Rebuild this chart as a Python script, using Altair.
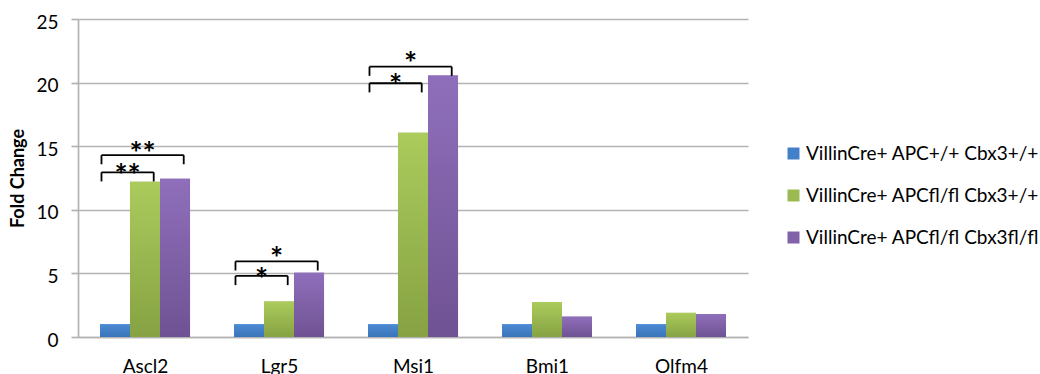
import altair as alt
import pandas as pd

# Genes on the x axis and the three genotypes
genes = ["Ascl2", "Lgr5", "Msi1", "Bmi1", "Olfm4"]
series = [
    "VillinCre+ APC+/+ Cbx3+/+",
    "VillinCre+ APCfl/fl Cbx3+/+",
    "VillinCre+ APCfl/fl Cbx3fl/fl",
]

# Fold change per gene for each genotype
fc_wildtype = [1.0, 1.0, 1.0, 1.0, 1.0]
fc_apc = [12.2, 2.8, 16.05, 2.75, 1.9]
fc_apc_cbx3 = [12.45, 5.05, 20.55, 1.6, 1.8]

# Significance brackets: gene, genotype compared against wild type, bracket height, star text and height
sig_gene = ["Ascl2", "Ascl2", "Lgr5", "Lgr5", "Msi1", "Msi1"]
sig_to = [1, 2, 1, 2, 1, 2]
sig_level = [12.95, 14.3, 4.8, 5.95, 19.95, 21.25]
sig_label = ["**", "**", "*", "*", "*", "*"]
sig_label_y = [13.3, 15.0, 5.1, 6.8, 20.4, 22.1]

solid_colors = ["#4280c9", "#9bbb52", "#8062a8"]
gradients = [
    ("#4b8bd4", "#3a73b8"),
    ("#abcb5c", "#86a243"),
    ("#8f6fbb", "#6f5293"),
]

FONT = "Lato"
FS = 19
BAR_W = 0.224   # bar width in category units
LEG = 0.72      # bracket leg length in fold-change units
GRID = "#b3b3b3"

values = [fc_wildtype, fc_apc, fc_apc_cbx3]
rows = []
for si, s in enumerate(series):
    for gi, g in enumerate(genes):
        rows.append({"gene": g, "gi": gi, "series": s, "si": si, "value": values[si][gi]})
bars_df = pd.DataFrame(rows)

sig_df = pd.DataFrame({
    "gene": sig_gene,
    "to": sig_to,
    "level": sig_level,
    "label": sig_label,
    "label_y": sig_label_y,
})

x_scale = alt.Scale(domain=[-0.5, 4.5], nice=False, zero=False)
y_scale = alt.Scale(domain=[0, 25], nice=False)

x_axis = alt.Axis(
    values=list(range(len(genes))),
    labelExpr="[" + ",".join(f"'{g}'" for g in genes) + "][datum.value]",
    grid=False, ticks=False, domainColor=GRID, domainWidth=1.7,
    labelFont=FONT, labelFontSize=FS, labelColor="#000000", labelPadding=20,
    title=None,
)
y_axis = alt.Axis(
    values=[0, 5, 10, 15, 20, 25], grid=True, gridColor=GRID, gridWidth=1.7,
    tickSize=7, tickColor=GRID, tickWidth=1.7, domainColor=GRID, domainWidth=1.7,
    labelFont=FONT, labelFontSize=FS, labelColor="#000000", labelPadding=13,
    labelOffset=3,
    title="Fold Change", titleFont=FONT, titleFontSize=18, titleFontWeight="bold",
    titleColor="#000000", titlePadding=8,
)


def xq(field):
    return alt.X(field, scale=x_scale, axis=x_axis)


def yq(field):
    return alt.Y(field, scale=y_scale, axis=y_axis)


base = alt.Chart(bars_df).transform_calculate(
    x0=f"datum.gi + (datum.si - 1.5) * {BAR_W}",
    x1=f"datum.gi + (datum.si - 0.5) * {BAR_W}",
)

bars = base.mark_bar().encode(
    x=xq("x0:Q"),
    x2="x1:Q",
    y=yq("value:Q"),
    y2=alt.datum(0),
    color=alt.Color(
        "series:N",
        scale=alt.Scale(domain=series, range=solid_colors),
        legend=alt.Legend(
            title=None, orient="none", legendX=706, legendY=125,
            symbolType="square", symbolSize=144, symbolStrokeWidth=0,
            labelFont=FONT, labelFontSize=FS, labelColor="#000000",
            labelOffset=3, rowPadding=22, labelLimit=400,
        ),
    ),
)

layers = [bars]
for si, (top, bottom) in enumerate(gradients):
    fill = alt.LinearGradient(
        gradient="linear", x1=0, x2=0, y1=0, y2=1,
        stops=[alt.GradientStop(color=top, offset=0), alt.GradientStop(color=bottom, offset=1)],
    )
    layers.append(
        base.transform_filter(f"datum.si == {si}").mark_bar(fill=fill).encode(
            x=xq("x0:Q"),
            x2="x1:Q",
            y=yq("value:Q"),
            y2=alt.datum(0),
        )
    )

gene_index = "indexof([" + ",".join(f"'{g}'" for g in genes) + "], datum.gene)"
sig = alt.Chart(sig_df).transform_calculate(
    gi=gene_index,
).transform_calculate(
    xl=f"datum.gi - 1.45 * {BAR_W}",
    xr=f"datum.gi + (datum.to - 1) * {BAR_W} + 0.065",
    low=f"datum.level - {LEG}",
).transform_calculate(
    xm="(datum.xl + datum.xr) / 2",
)

bracket_style = dict(color="#000000", strokeWidth=1.8)
top_rule = sig.mark_rule(**bracket_style).encode(
    x=xq("xl:Q"), x2="xr:Q",
    y=yq("level:Q"),
)
left_leg = sig.mark_rule(**bracket_style).encode(
    x=xq("xl:Q"),
    y=yq("level:Q"), y2="low:Q",
)
right_leg = sig.mark_rule(**bracket_style).encode(
    x=xq("xr:Q"),
    y=yq("level:Q"), y2="low:Q",
)
stars = sig.mark_text(font=FONT, fontSize=31, fontWeight="bold", color="#000000",
                      baseline="middle", dy=9).encode(
    x=xq("xm:Q"),
    y=yq("label_y:Q"),
    text="label:N",
)

layers += [top_rule, left_leg, right_leg, stars]

chart = alt.layer(*layers).properties(
    width=670, height=318,
    padding={"left": 78, "top": 19, "right": 292, "bottom": 37},
    autosize=alt.AutoSizeParams(type="none"),
    background="#ffffff",
).configure_view(stroke=None)

chart.save("out.html", embed_options={"renderer": "svg", "actions": False})
